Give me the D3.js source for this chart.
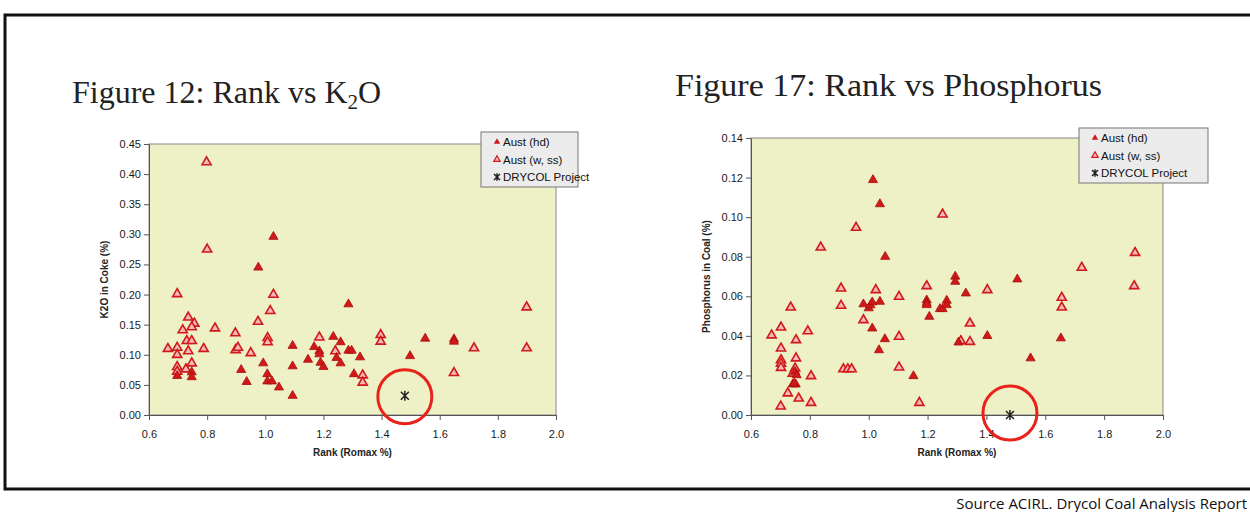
<!DOCTYPE html>
<html lang="en">
<head>
<meta charset="UTF-8"/>
<title>Rank vs K2O and Phosphorus</title>
<script src="https://d3js.org/d3.v7.min.js"></script>
<style>
  body { margin: 0; background: #fff; }
  svg { display: block; }
  .tick text { font-family: 'Liberation Sans', Arial, sans-serif; font-size: 11px; fill: #1a1a1a; }
  .axis path, .axis line { stroke: #555; }
  text.title { font-family: 'Liberation Serif', 'Times New Roman', serif; font-size: 32px; fill: #222; }
  text.axlabel { font-family: 'Liberation Sans', Arial, sans-serif; font-size: 10px; font-weight: bold; fill: #222; }
  text.legend { font-family: 'Liberation Sans', Arial, sans-serif; font-size: 11.5px; fill: #111; }
  text.source { font-family: 'Open Sans', 'Noto Sans', sans-serif; font-size: 15px; fill: #111; }
</style>
</head>
<body>
<svg width="1250" height="512"></svg>
<script>
// Figure 12: rank vs K2O in coke  [rank, value]
const k2oHd = [[1.028,0.296],[0.976,0.245],[0.697,0.065],[0.747,0.071],[0.747,0.063],[0.917,0.075],[0.936,0.055],[0.993,0.086],[1.007,0.068],[1.007,0.056],[1.023,0.056],[1.047,0.046],[1.094,0.032],[1.094,0.115],[1.094,0.081],[1.147,0.092],[1.168,0.113],[1.186,0.106],[1.186,0.101],[1.19,0.087],[1.2,0.080],[1.234,0.130],[1.245,0.095],[1.259,0.121],[1.259,0.086],[1.286,0.184],[1.286,0.107],[1.297,0.107],[1.326,0.096],[1.305,0.068],[1.55,0.127],[1.498,0.098],[1.649,0.126],[1.649,0.122]];
const k2oWss = [[0.798,0.420],[0.80,0.275],[0.697,0.201],[0.665,0.110],[0.697,0.112],[0.697,0.100],[0.697,0.080],[0.697,0.072],[0.716,0.141],[0.735,0.162],[0.756,0.152],[0.747,0.146],[0.73,0.123],[0.747,0.123],[0.735,0.106],[0.727,0.076],[0.747,0.086],[0.788,0.110],[0.827,0.144],[0.897,0.136],[0.898,0.108],[0.906,0.112],[0.95,0.103],[0.975,0.155],[1.008,0.128],[1.008,0.121],[1.017,0.173],[1.028,0.200],[1.186,0.129],[1.335,0.066],[1.335,0.054],[1.397,0.133],[1.397,0.122],[1.649,0.070],[1.718,0.111],[1.899,0.179],[1.899,0.111],[1.241,0.106]];
const k2oDrycol = [[1.48,0.032]];

// Figure 17: rank vs phosphorus in coal
const phosHd = [[1.0145,0.1188],[1.038,0.1066],[1.056,0.080],[1.294,0.070],[1.294,0.0674],[0.75,0.0219],[0.755,0.0202],[0.742,0.0155],[0.752,0.0155],[0.747,0.016],[0.982,0.056],[1.0,0.054],[1.006,0.0555],[1.012,0.057],[1.038,0.0573],[1.012,0.0438],[1.055,0.0384],[1.035,0.0328],[1.152,0.0197],[1.197,0.058],[1.197,0.0565],[1.197,0.0556],[1.206,0.0497],[1.242,0.0536],[1.251,0.0536],[1.265,0.0578],[1.265,0.0556],[1.305,0.0367],[1.33,0.0615],[1.505,0.0686],[1.403,0.040],[1.55,0.0287],[1.653,0.0388]];
const phosWss = [[1.251,0.1014],[0.957,0.0947],[0.837,0.0847],[0.906,0.064],[0.906,0.0553],[0.735,0.0544],[0.670,0.0403],[0.702,0.0443],[0.702,0.0337],[0.702,0.0278],[0.702,0.026],[0.702,0.0239],[0.753,0.0379],[0.753,0.0287],[0.725,0.011],[0.762,0.0084],[0.701,0.0044],[0.793,0.0424],[0.804,0.0197],[0.804,0.0062],[0.914,0.0232],[0.929,0.0232],[0.942,0.0232],[0.982,0.048],[1.024,0.0632],[1.103,0.0598],[1.103,0.0396],[1.103,0.0241],[1.172,0.0062],[1.197,0.0652],[1.403,0.0632],[1.344,0.0463],[1.313,0.0374],[1.344,0.037],[1.656,0.0593],[1.656,0.0544],[1.902,0.0652],[1.724,0.0745],[1.905,0.082],[0.75,0.0236],[0.742,0.021]];
const phosDrycol = [[1.48,0.0]];

const rankTicks = [0.6, 0.8, 1.0, 1.2, 1.4, 1.6, 1.8, 2.0];
const k2oTicks = [0, 0.05, 0.10, 0.15, 0.20, 0.25, 0.30, 0.35, 0.40, 0.45];
const phosTicks = [0, 0.02, 0.04, 0.06, 0.08, 0.10, 0.12, 0.14];
const legendNames = ['Aust (hd)', 'Aust (w, ss)', 'DRYCOL Project'];

const svg = d3.select('svg');

// outer frame of the slide
svg.append('path')
  .attr('d', 'M1250,15 H5 V489 H1250')
  .attr('fill', 'none')
  .attr('stroke', '#111')
  .attr('stroke-width', 3);

const red = '#d01a1a';
const tri = d3.symbol().type(d3.symbolTriangle).size(36);
const star = 'M-4,-4L4,4M-4,4L4,-4M0,-5V5';

function drawChart(o) {
  const x = d3.scaleLinear().domain([0.6, 2.0]).range([o.left, o.right]);
  const y = d3.scaleLinear().domain([0, o.ymax]).range([o.bottom, o.top]);
  const g = svg.append('g');

  g.append('text').attr('class', 'title')
    .attr('x', o.titleX).attr('y', o.titleY)
    .call(o.titleText);

  g.append('rect')
    .attr('x', o.left).attr('y', o.top)
    .attr('width', o.right - o.left).attr('height', o.bottom - o.top)
    .attr('fill', '#eef0c6').attr('stroke', '#888').attr('stroke-width', 1);

  g.append('g').attr('class', 'axis')
    .attr('transform', `translate(${o.left},0)`)
    .call(d3.axisLeft(y).tickValues(o.yTicks).tickSize(5).tickSizeOuter(0)
      .tickFormat(d3.format('.2f')));

  g.append('g').attr('class', 'axis')
    .attr('transform', `translate(0,${o.bottom})`)
    .call(d3.axisBottom(x).tickValues(rankTicks).tickSize(5).tickSizeOuter(0)
      .tickFormat(d3.format('.1f')))
    .selectAll('text').attr('dy', '1.35em');

  g.append('text').attr('class', 'axlabel')
    .attr('x', (o.left + o.right) / 2).attr('y', o.bottom + 41)
    .attr('text-anchor', 'middle').text('Rank (Romax %)');

  g.append('text').attr('class', 'axlabel')
    .attr('transform', `translate(${o.left - 41},${(o.top + o.bottom) / 2}) rotate(-90)`)
    .attr('text-anchor', 'middle').text(o.yLabel);

  g.selectAll('.wss').data(o.wss).join('path')
    .attr('transform', d => `translate(${x(d[0])},${y(d[1])})`)
    .attr('d', tri).attr('fill', '#f4b8b8').attr('stroke', red).attr('stroke-width', 1.6);

  g.selectAll('.hd').data(o.hd).join('path')
    .attr('transform', d => `translate(${x(d[0])},${y(d[1])})`)
    .attr('d', tri).attr('fill', red).attr('stroke', '#a80d0d').attr('stroke-width', 0.8);

  g.selectAll('.dry').data(o.dry).join('path')
    .attr('transform', d => `translate(${x(d[0])},${y(d[1])})`)
    .attr('d', star).attr('stroke', '#222').attr('stroke-width', 1.5).attr('fill', 'none');

  g.selectAll('.ring').data(o.dry).join('circle')
    .attr('cx', d => x(d[0])).attr('cy', d => y(d[1]) + o.ringDy)
    .attr('r', 27).attr('fill', 'none').attr('stroke', '#e8231b').attr('stroke-width', 3);

  // legend
  const lg = g.append('g').attr('transform', `translate(${o.legX},${o.legY})`);
  lg.append('rect').attr('width', o.legW).attr('height', 55)
    .attr('fill', '#ececec').attr('stroke', '#777');
  legendNames.forEach((name, i) => {
    const cy = 10 + i * 17.5;
    if (i === 0) {
      lg.append('path').attr('transform', `translate(16,${cy})`)
        .attr('d', d3.symbol().type(d3.symbolTriangle).size(18)).attr('fill', red);
    } else if (i === 1) {
      lg.append('path').attr('transform', `translate(16,${cy})`)
        .attr('d', d3.symbol().type(d3.symbolTriangle).size(18))
        .attr('fill', '#f4b8b8').attr('stroke', red).attr('stroke-width', 1.2);
    } else {
      lg.append('path').attr('transform', `translate(16,${cy}) scale(0.75)`)
        .attr('d', star).attr('stroke', '#222').attr('stroke-width', 2).attr('fill', 'none');
    }
    lg.append('text').attr('class', 'legend')
      .attr('x', 22).attr('y', cy + 4).text(name);
  });
}

drawChart({
  left: 149, right: 556, top: 144, bottom: 415, ymax: 0.45,
  yTicks: k2oTicks, yLabel: 'K2O in Coke (%)',
  hd: k2oHd, wss: k2oWss, dry: k2oDrycol, ringDy: 1,
  titleX: 72, titleY: 103,
  titleText: t => { t.append('tspan').text('Figure 12: Rank vs K');
                    t.append('tspan').attr('font-size', '21px').attr('dy', 6).text('2');
                    t.append('tspan').attr('dy', -6).text('O'); },
  legX: 481, legY: 132, legW: 97
});

drawChart({
  left: 751, right: 1163, top: 138, bottom: 415, ymax: 0.14,
  yTicks: phosTicks, yLabel: 'Phosphorus in Coal (%)',
  hd: phosHd, wss: phosWss, dry: phosDrycol, ringDy: -2,
  titleX: 675, titleY: 96,
  titleText: t => t.attr('textLength', 427).attr('lengthAdjust', 'spacingAndGlyphs').text('Figure 17: Rank vs Phosphorus'),
  legX: 1079, legY: 128, legW: 129
});

svg.append('text').attr('class', 'source')
  .attr('x', 1247).attr('y', 509).attr('text-anchor', 'end')
  .text('Source ACIRL. Drycol Coal Analysis Report');
</script>
</body>
</html>
